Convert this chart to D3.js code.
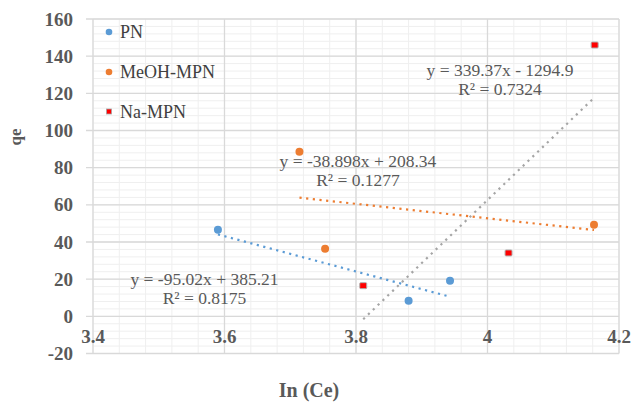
<!DOCTYPE html>
<html><head><meta charset="utf-8">
<script src="https://cdn.jsdelivr.net/npm/d3@7"></script>
<style>body{margin:0;background:#fff}svg{display:block}text{font-family:"Liberation Serif","DejaVu Serif","Times New Roman",serif}</style>
</head><body>
<svg id="chart" width="631" height="404"></svg>
<script>
const seriesNames = ["PN", "MeOH-MPN", "Na-MPN"];
const pnX = [3.59, 3.88, 3.943];
const pnY = [46.6, 8.4, 19.2];
const meohX = [3.714, 3.753, 4.162];
const meohY = [88.5, 36.4, 49.3];
const naX = [3.811, 4.032, 4.163];
const naY = [16.5, 34.1, 146];
const slopes = [-95.02, -38.898, 339.37];
const intercepts = [385.21, 208.34, -1294.9];
const eqLabels = ["y = -95.02x + 385.21", "y = -38.898x + 208.34", "y = 339.37x - 1294.9"];
const r2Labels = ["R² = 0.8175", "R² = 0.1277", "R² = 0.7324"];
const eqAnchors = [[3.5696, 17], [3.803, 80.5], [4.019, 129.5]]; // data-space anchor of equation labels
const xTicks = [3.4, 3.6, 3.8, 4, 4.2];
const yTicks = [-20, 0, 20, 40, 60, 80, 100, 120, 140, 160];

const markerColors = ["#5B9BD5", "#ED7D31", "#FF0000"];
const trendColors = ["#5B9BD5", "#ED7D31", "#A5A5A5"];

const svg = d3.select("#chart");
const L = 93, R = 619, T = 19, B = 353.5;
const x = d3.scaleLinear().domain([3.4, 4.2]).range([L, R]);
const y = d3.scaleLinear().domain([-20, 160]).range([B, T]);

// minor grid
const g = svg.append("g");
g.selectAll(".mx").data(d3.range(0, 21).map(i => 3.4 + i * 0.04)).enter().append("line")
  .attr("x1", d => x(d)).attr("x2", d => x(d)).attr("y1", T).attr("y2", B)
  .attr("stroke", "#efefef").attr("stroke-width", 1);
g.selectAll(".my").data(d3.range(0, 46).map(i => -20 + i * 4)).enter().append("line")
  .attr("x1", L).attr("x2", R).attr("y1", d => y(d)).attr("y2", d => y(d))
  .attr("stroke", "#efefef").attr("stroke-width", 1);
// major grid
g.selectAll(".Mx").data(xTicks).enter().append("line")
  .attr("x1", d => x(d)).attr("x2", d => x(d)).attr("y1", T).attr("y2", B)
  .attr("stroke", "#d9d9d9").attr("stroke-width", 1.3);
g.selectAll(".My").data(yTicks).enter().append("line")
  .attr("x1", L - 7).attr("x2", R).attr("y1", d => y(d)).attr("y2", d => y(d))
  .attr("stroke", "#d9d9d9").attr("stroke-width", 1.3);

// axes labels
svg.append("g").selectAll("text").data(yTicks).enter().append("text")
  .attr("x", 73).attr("y", d => y(d)).attr("dy", "0.35em").attr("text-anchor", "end")
  .attr("font-weight", "bold").attr("font-size", 19)
  .attr("fill", "#595959").text(d => d);
svg.append("g").selectAll("text").data(xTicks).enter().append("text")
  .attr("x", d => x(d)).attr("y", y(0) + 20).attr("dy", "0.35em").attr("text-anchor", "middle")
  .attr("font-weight", "bold").attr("font-size", 19)
  .attr("fill", "#595959").text(d => d);

svg.append("text").attr("transform", "translate(21,137) rotate(-90)")
  .attr("text-anchor", "middle").attr("font-weight", "bold")
  .attr("font-size", 17).attr("fill", "#595959").text("qe");
svg.append("text").attr("x", 309).attr("y", 397).attr("text-anchor", "middle")
  .attr("font-weight", "bold").attr("font-size", 20)
  .attr("fill", "#595959").text("In (Ce)");

const series = [
  {xs: pnX, ys: pnY}, {xs: meohX, ys: meohY}, {xs: naX, ys: naY}
];

// trendlines
series.forEach((s, i) => {
  const x0 = d3.min(s.xs), x1 = d3.max(s.xs);
  svg.append("line")
    .attr("x1", x(x0)).attr("y1", y(slopes[i] * x0 + intercepts[i]))
    .attr("x2", x(x1)).attr("y2", y(slopes[i] * x1 + intercepts[i]))
    .attr("stroke", trendColors[i]).attr("stroke-width", 2.2)
    .attr("stroke-dasharray", "2.2,4.5");
});

// markers
function drawMarker(sel, i) {
  if (i < 2) {
    sel.append("circle").attr("r", 4).attr("fill", markerColors[i]);
  } else {
    sel.append("rect").attr("x", -3.5).attr("y", -3).attr("width", 7).attr("height", 6)
      .attr("rx", 1).attr("fill", markerColors[i]).attr("stroke", "#b0b0b0").attr("stroke-width", 1);
  }
}
series.forEach((s, i) => {
  s.xs.forEach((xv, j) => {
    const m = svg.append("g").attr("transform", `translate(${x(xv)},${y(s.ys[j])})`);
    drawMarker(m, i);
  });
});

// equations
eqAnchors.forEach((a, i) => {
  const t = svg.append("text").attr("text-anchor", "middle")
    .attr("font-size", 17.5).attr("fill", "#595959");
  t.append("tspan").attr("x", x(a[0])).attr("y", y(a[1])).text(eqLabels[i]);
  t.append("tspan").attr("x", x(a[0])).attr("y", y(a[1]) + 19.5).text(r2Labels[i]);
});

// legend
const legY = [32, 72, 111.5];
seriesNames.forEach((n, i) => {
  const m = svg.append("g").attr("transform", `translate(109,${legY[i]})`);
  if (i < 2) m.append("circle").attr("r", 3.3).attr("fill", markerColors[i]);
  else m.append("rect").attr("x", -2.5).attr("y", -2.5).attr("width", 5).attr("height", 5)
    .attr("fill", markerColors[i]).attr("stroke", "#a5a5a5").attr("stroke-width", 0.8);
  svg.append("text").attr("x", 120).attr("y", legY[i]).attr("dy", "0.35em")
    .attr("font-size", 18).attr("fill", "#404040").text(n);
});
</script>
</body></html>
